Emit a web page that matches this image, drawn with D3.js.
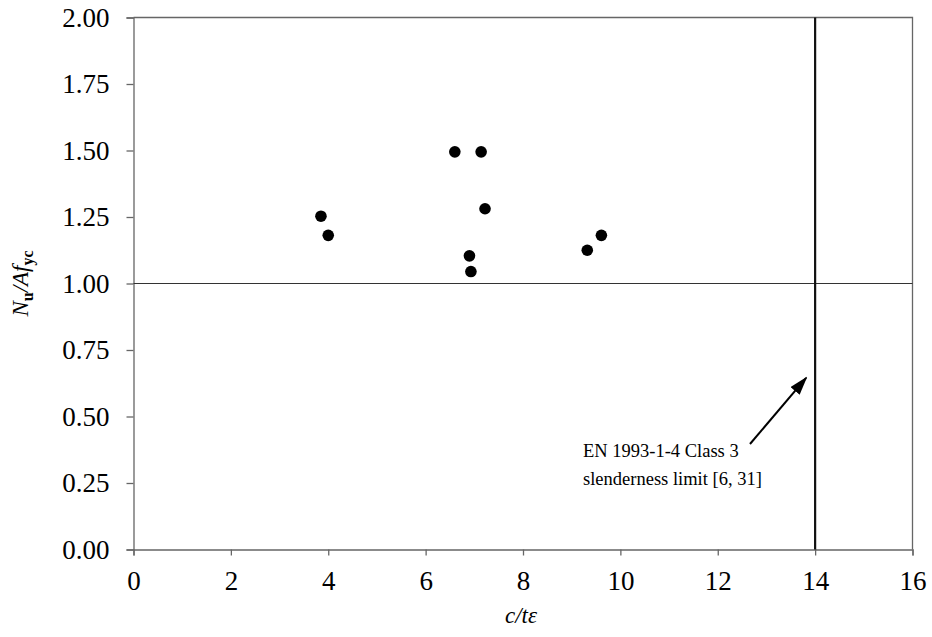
<!DOCTYPE html>
<html>
<head>
<meta charset="utf-8">
<script src="https://cdn.jsdelivr.net/npm/d3@7"></script>
<style>
  html, body { margin: 0; padding: 0; background: #fff; }
  svg { display: block; }
  text { font-family: "Liberation Serif", "DejaVu Serif", serif; fill: #000; }
</style>
</head>
<body>
<svg id="chart" width="932" height="637"></svg>
<script>
// Slenderness c/tε of each tested section
const slenderness = [3.85, 4.00, 6.60, 7.14, 7.22, 6.90, 6.93, 9.61, 9.32];
// Normalised ultimate load N_u / A f_yc
const loadRatio = [1.253, 1.181, 1.495, 1.495, 1.281, 1.104, 1.045, 1.181, 1.125];

const xTicks = [0, 2, 4, 6, 8, 10, 12, 14, 16];
const yTicks = [0, 0.25, 0.5, 0.75, 1.0, 1.25, 1.5, 1.75, 2.0];
const classLimit = 14;
const referenceRatio = 1.0;
const noteLines = ["EN 1993-1-4 Class 3", "slenderness limit [6, 31]"];

const serif = "'Liberation Serif', 'DejaVu Serif', serif";
const svg = d3.select("#chart");
const m = { left: 133.5, right: 912.5, top: 17.5, bottom: 549.5 };

const x = d3.scaleLinear().domain([0, 16]).range([m.left, m.right]);
const y = d3.scaleLinear().domain([0, 2]).range([m.bottom, m.top]);

const axisColor = "#666";

// Frame (top and right edges)
svg.append("path")
  .attr("d", `M${m.left},${m.top}H${m.right}V${m.bottom}`)
  .attr("fill", "none").attr("stroke", axisColor).attr("stroke-width", 1.3);

// Y axis
const yAxis = svg.append("g")
  .attr("transform", `translate(${m.left},0)`)
  .call(d3.axisLeft(y).tickValues(yTicks).tickFormat(d3.format(".2f")).tickSize(7).tickPadding(17))
  .attr("font-family", serif).attr("font-size", 27);
yAxis.select(".domain").attr("stroke", axisColor).attr("stroke-width", 1.3);
yAxis.selectAll(".tick line").attr("stroke", axisColor).attr("stroke-width", 1.3);
yAxis.selectAll(".tick text").attr("fill", "#000");

// X axis
const xAxis = svg.append("g")
  .attr("transform", `translate(0,${m.bottom})`)
  .call(d3.axisBottom(x).tickValues(xTicks).tickFormat(d3.format("d")).tickSize(6).tickPadding(15))
  .attr("font-family", serif).attr("font-size", 27);
xAxis.select(".domain").attr("stroke", axisColor).attr("stroke-width", 1.3);
xAxis.selectAll(".tick line").attr("stroke", axisColor).attr("stroke-width", 1.3);
xAxis.selectAll(".tick text").attr("fill", "#000");

// Reference line at N_u/Af_yc = 1
svg.append("line")
  .attr("x1", x(0)).attr("x2", x(16))
  .attr("y1", y(referenceRatio)).attr("y2", y(referenceRatio))
  .attr("stroke", "#333").attr("stroke-width", 1.2);

// Class 3 slenderness limit
svg.append("line")
  .attr("x1", x(classLimit)).attr("x2", x(classLimit))
  .attr("y1", y(2)).attr("y2", y(0))
  .attr("stroke", "#111").attr("stroke-width", 2.2);

// Test results
svg.append("g").selectAll("circle")
  .data(slenderness.map((s, i) => [s, loadRatio[i]]))
  .join("circle")
  .attr("cx", d => x(d[0]))
  .attr("cy", d => y(d[1]))
  .attr("r", 5.8)
  .attr("fill", "#000");

// Annotation text and arrow
const note = svg.append("text")
  .attr("x", 583).attr("y", 457)
  .attr("font-family", serif)
  .style("font-size", "18.5px");
note.selectAll("tspan").data(noteLines).join("tspan")
  .attr("x", 583).attr("dy", (d, i) => i === 0 ? 0 : 28)
  .text(d => d);

svg.append("defs").append("marker")
  .attr("id", "arrowhead")
  .attr("viewBox", "0 0 10 10").attr("refX", 9).attr("refY", 5)
  .attr("markerWidth", 19).attr("markerHeight", 12)
  .attr("markerUnits", "userSpaceOnUse")
  .attr("orient", "auto")
  .attr("preserveAspectRatio", "none")
  .append("path").attr("d", "M0,0L10,5L0,10Z").attr("fill", "#000");
// Arrow points at the limit line at roughly N_u/Af_yc = 0.65
svg.append("line")
  .attr("x1", 750).attr("y1", 444)
  .attr("x2", x(classLimit) - 9).attr("y2", y(0.645))
  .attr("stroke", "#000").attr("stroke-width", 2)
  .attr("marker-end", "url(#arrowhead)");

// Axis titles
svg.append("text")
  .attr("x", (m.left + m.right) / 2 - 2).attr("y", 623)
  .attr("text-anchor", "middle")
  .attr("font-family", serif)
  .style("font-size", "23px").style("font-style", "italic")
  .text("c/tε");

const yTitle = svg.append("text")
  .attr("transform", `translate(28,${y(1)}) rotate(-90)`)
  .attr("text-anchor", "middle")
  .attr("font-family", serif)
  .style("font-size", "23px");
yTitle.append("tspan").style("font-style", "italic").text("N");
yTitle.append("tspan").attr("dy", 5).style("font-weight", "bold").style("font-size", "16px").text("u");
yTitle.append("tspan").attr("dy", -5).style("font-style", "italic").text("/Af");
yTitle.append("tspan").attr("dy", 5).style("font-weight", "bold").style("font-size", "16px").text("yc");
</script>
</body>
</html>
